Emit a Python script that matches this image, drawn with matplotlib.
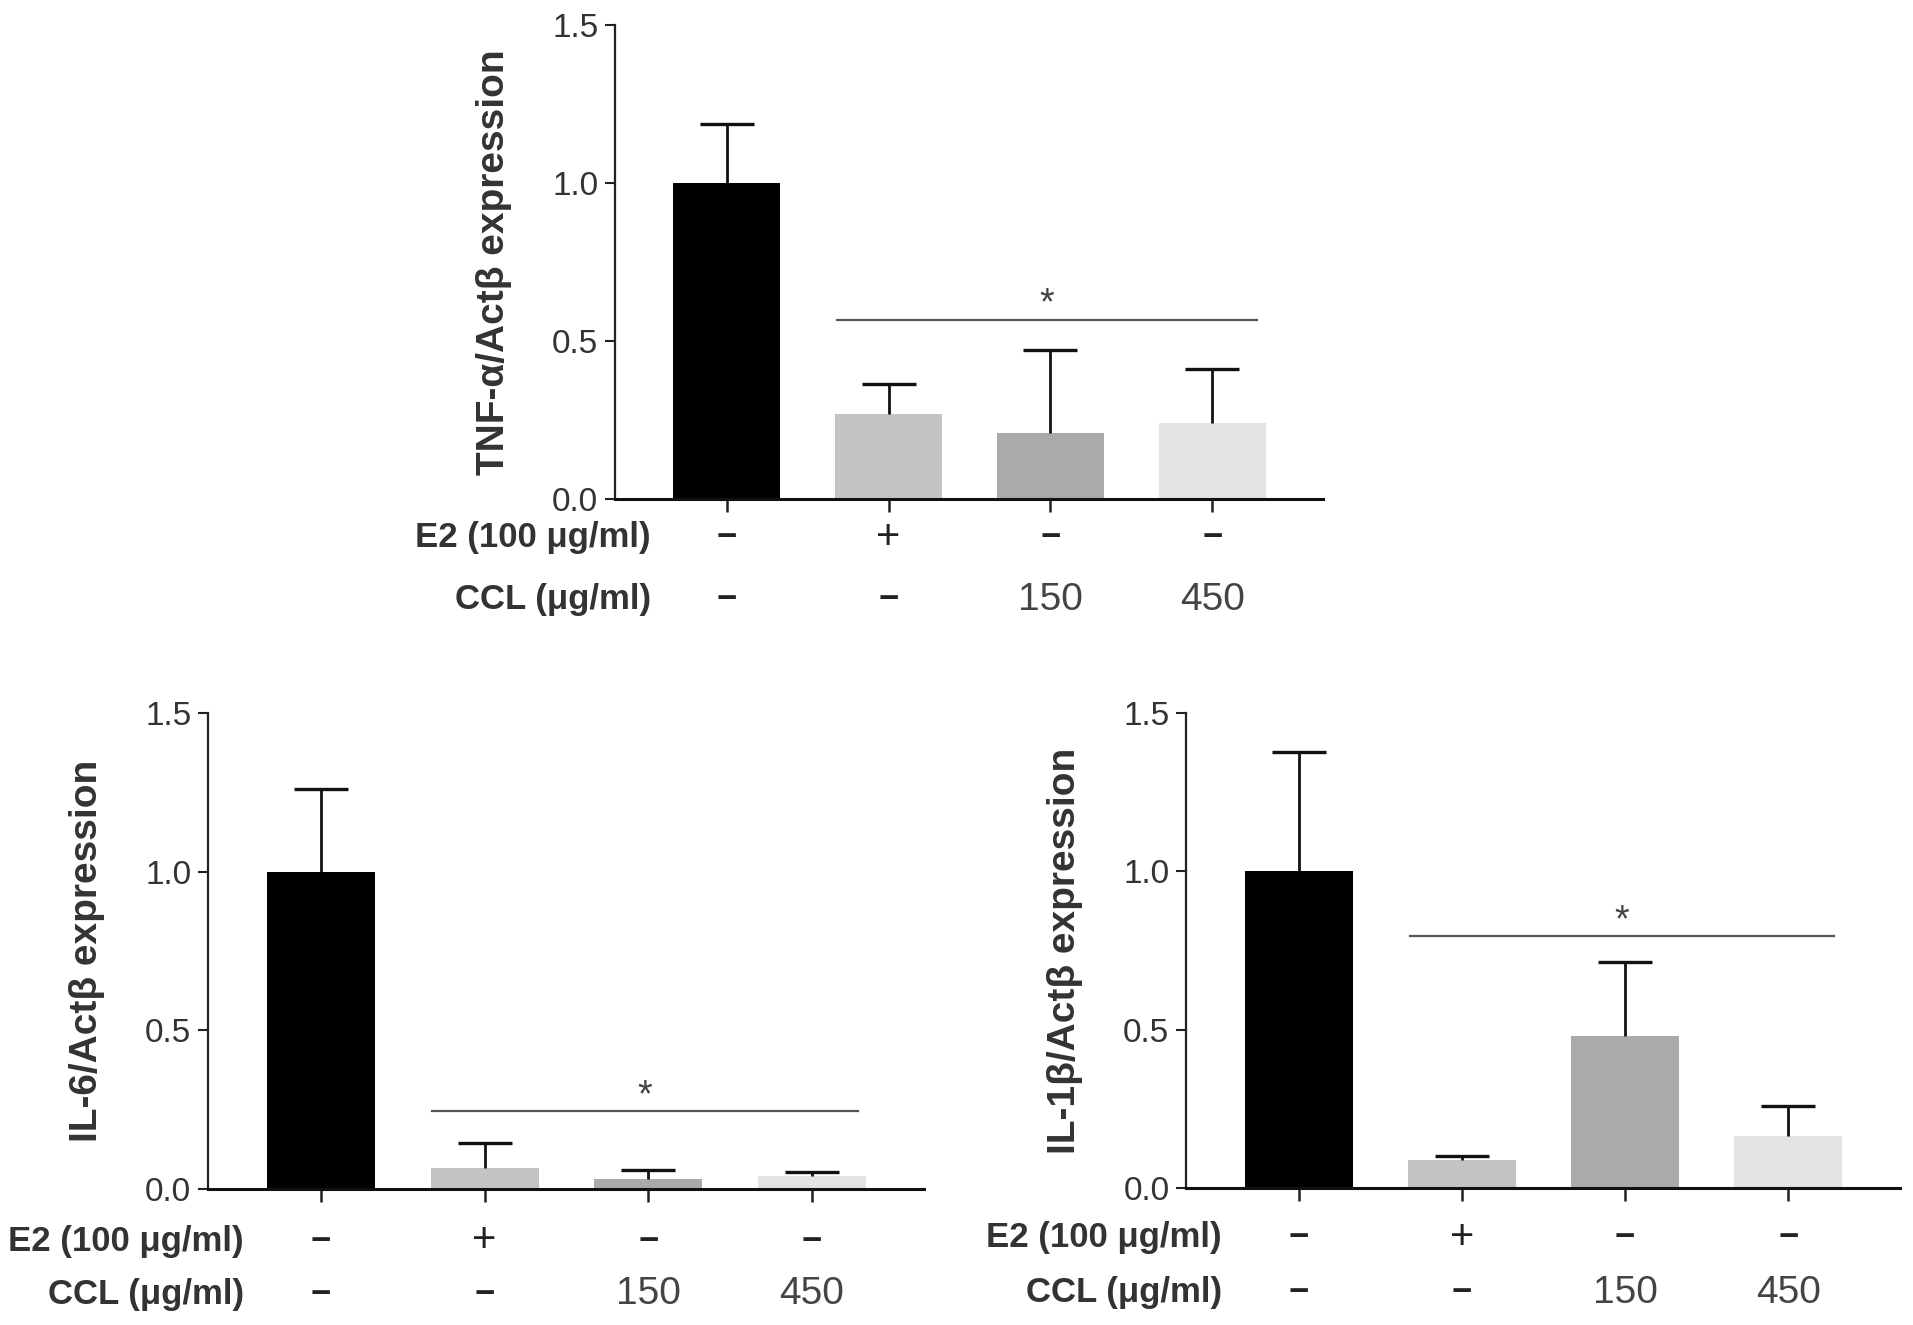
import numpy as np
import matplotlib
matplotlib.use("Agg")
import matplotlib.pyplot as plt

plt.rcParams['font.family'] = ['Liberation Sans', 'DejaVu Sans']

# data (mean and upper SD)
groups = [0, 1, 2, 3]
bar_colors = ['#000000', '#c3c3c3', '#aaaaaa', '#e3e3e3']
e2_row = ['−', '+', '−', '−']
ccl_row = ['−', '−', '150', '450']

tnf_mean = [1.0, 0.27, 0.21, 0.24]
tnf_sd = [0.185, 0.095, 0.26, 0.17]
tnf_sig = 0.567

il6_mean = [1.0, 0.065, 0.032, 0.04]
il6_sd = [0.26, 0.08, 0.028, 0.013]
il6_sig = 0.245

il1b_mean = [1.0, 0.088, 0.48, 0.163]
il1b_sd = [0.377, 0.014, 0.235, 0.097]
il1b_sig = 0.796

yticks = [0.0, 0.5, 1.0, 1.5]
ytick_labels = ['0.0', '0.5', '1.0', '1.5']

txt = '#333333'

fig = plt.figure(figsize=(19.13, 13.25), dpi=100)


def draw_panel(rect, mean, sd, sig, ylabel, row_off):
    ax = fig.add_axes(rect)
    ax.bar(groups, mean, width=0.66, color=bar_colors, edgecolor='none', zorder=2)
    # one-sided (upper) error bars: hide the lower caps
    eb = ax.errorbar(groups, mean, yerr=[np.zeros(len(sd)), sd], fmt='none',
                     ecolor='#111111', elinewidth=2.0, capsize=19.5, capthick=2.4, zorder=3)
    eb[1][0].set_visible(False)
    ax.set_xlim(-0.69, 3.685)
    ax.set_ylim(0, 1.5)
    for s in ['top', 'right']:
        ax.spines[s].set_visible(False)
    ax.spines['left'].set_linewidth(1.6)
    ax.spines['bottom'].set_linewidth(2.2)
    ax.spines['left'].set_color('#222222')
    ax.spines['bottom'].set_color('#111111')
    ax.set_yticks(yticks)
    ax.set_yticklabels(ytick_labels)
    ax.tick_params(axis='y', direction='out', length=7, width=1.5, pad=5,
                   labelsize=24, labelcolor=txt, color='#222222')
    ax.set_xticks(groups)
    ax.set_xticklabels([])
    ax.tick_params(axis='x', direction='out', length=9, width=1.8, color='#222222')

    # significance bar
    ax.plot([0.68, 3.28], [sig, sig], color='#555555', lw=1.6, zorder=3)
    ax.annotate('*', xy=(1.98, sig), xytext=(0, 5), textcoords='offset pixels',
                ha='center', va='baseline', fontsize=27, color='#444444')

    ax.annotate(ylabel, xy=(0, 0.5), xycoords='axes fraction', xytext=(-121, 0),
                textcoords='offset pixels', rotation=90, ha='center', va='center',
                fontsize=28, fontweight='bold', color=txt)

    # treatment rows under the axis
    rows = [('E2 (100 μg/ml)', e2_row), ('CCL (μg/ml)', ccl_row)]
    for (name, vals), off in zip(rows, row_off):
        ax.annotate(name, xy=(-0.47, 0), xycoords=('data', 'axes fraction'),
                    xytext=(0, -off), textcoords='offset pixels', ha='right', va='center',
                    fontsize=25, fontweight='bold', color=txt, annotation_clip=False)
        for g, v in zip(groups, vals):
            if v == '−':
                ax.annotate(v, xy=(g, 0), xycoords=('data', 'axes fraction'),
                            xytext=(0, -off), textcoords='offset pixels', ha='center',
                            va='center', fontsize=25, fontweight='bold',
                            color='#222222', annotation_clip=False)
            elif v == '+':
                ax.annotate(v, xy=(g, 0), xycoords=('data', 'axes fraction'),
                            xytext=(0, -off), textcoords='offset pixels', ha='center',
                            va='center', fontsize=30, color='#222222',
                            annotation_clip=False)
            else:
                ax.annotate(v, xy=(g, 0), xycoords=('data', 'axes fraction'),
                            xytext=(0, -off), textcoords='offset pixels', ha='center',
                            va='center', fontsize=28, color='#444444',
                            annotation_clip=False)
    return ax


draw_panel([0.3215, 0.6234, 0.3701, 0.3581], tnf_mean, tnf_sd, tnf_sig,
           'TNF-α/Actβ expression', [39, 101])
draw_panel([0.1087, 0.1026, 0.3743, 0.3592], il6_mean, il6_sd, il6_sig,
           'IL-6/Actβ expression', [52, 105])
draw_panel([0.6200, 0.1034, 0.3732, 0.3585], il1b_mean, il1b_sd, il1b_sig,
           'IL-1β/Actβ expression', [50, 105])

fig.savefig('out.png', dpi=100)
